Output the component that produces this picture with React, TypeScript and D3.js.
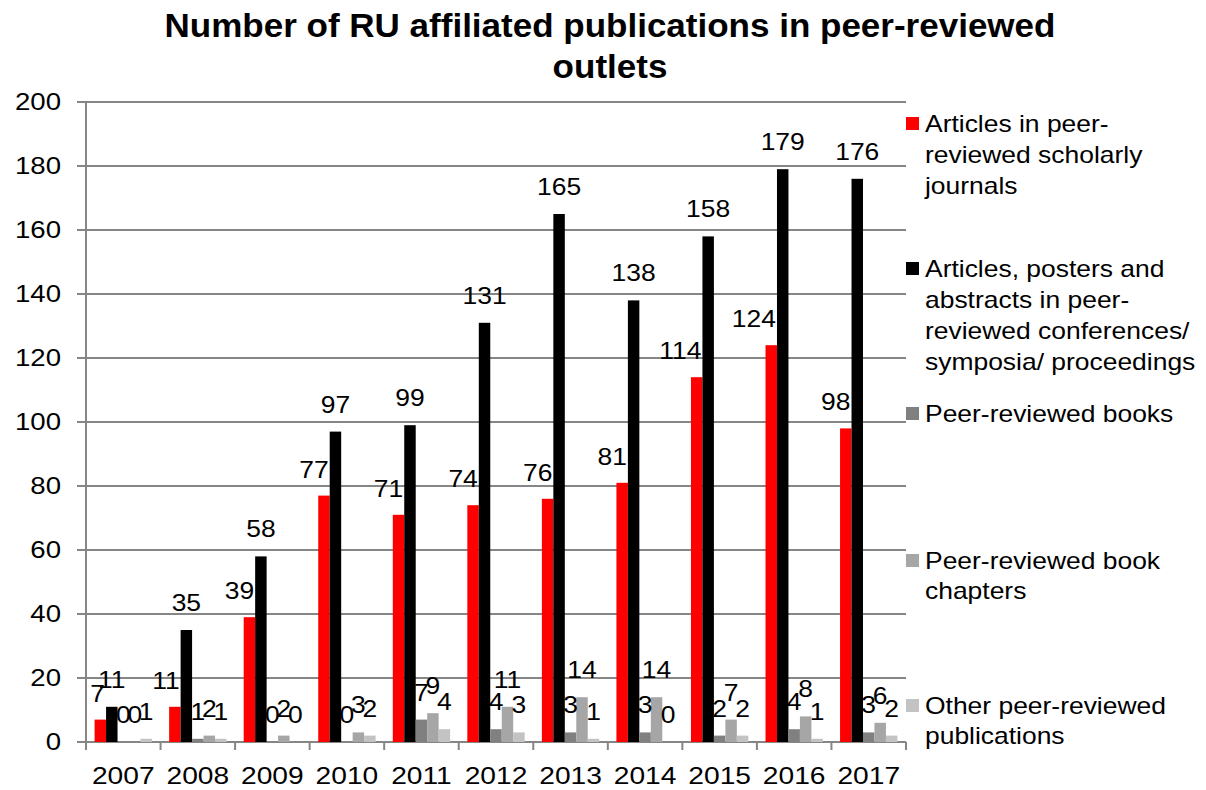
import { useMemo } from "react";
import * as d3 from "d3";

// chart data
const years = ["2007", "2008", "2009", "2010", "2011", "2012", "2013", "2014", "2015", "2016", "2017"];
const journals = [7, 11, 39, 77, 71, 74, 76, 81, 114, 124, 98];
const conferences = [11, 35, 58, 97, 99, 131, 165, 138, 158, 179, 176];
const books = [0, 1, 0, 0, 7, 4, 3, 3, 2, 4, 3];
const chapters = [0, 2, 2, 3, 9, 11, 14, 14, 7, 8, 6];
const other = [1, 1, 0, 2, 4, 3, 1, 0, 2, 1, 2];
const yTicks = [0, 20, 40, 60, 80, 100, 120, 140, 160, 180, 200];

const seriesNames = [
  ["Articles in peer-", "reviewed scholarly", "journals"],
  ["Articles, posters and", "abstracts in peer-", "reviewed conferences/", "symposia/ proceedings"],
  ["Peer-reviewed books"],
  ["Peer-reviewed book", "chapters"],
  ["Other peer-reviewed", "publications"],
];
const seriesValues = [journals, conferences, books, chapters, other];
const colors = ["#ff0000", "#000000", "#808080", "#a6a6a6", "#c3c3c3"];

const W = 1206;
const H = 790;
const plot = { left: 86, right: 906, top: 102, bottom: 742 };
const FONT = "'Liberation Sans', Arial, sans-serif";
const SX = 1.15; // the reference text is a bit wider than plain Arial

// text stretched horizontally around its anchor point
function T({ x, y, size, anchor = "start", bold = false, sx = SX, children }: any) {
  return (
    <text
      transform={`translate(${x},${y}) scale(${sx},1)`}
      fontSize={size}
      fontFamily={FONT}
      fontWeight={bold ? "bold" : "normal"}
      textAnchor={anchor}
      fill="#000"
    >
      {children}
    </text>
  );
}

export default function App() {
  const x = useMemo(
    () => d3.scaleBand().domain(years).range([plot.left, plot.right]).paddingInner(0).paddingOuter(0),
    []
  );
  const inner = useMemo(
    () =>
      d3
        .scaleBand<number>()
        .domain(d3.range(seriesValues.length))
        .range([0, x.bandwidth()])
        .paddingInner(0)
        .paddingOuter(0.75),
    [x]
  );
  const y = useMemo(() => d3.scaleLinear().domain([0, 200]).range([plot.bottom, plot.top]), []);

  const legendBaselines = [
    [132, 163, 194],
    [277, 308, 339, 370],
    [422],
    [569, 599],
    [714, 744],
  ];

  return (
    <svg
      width={W}
      height={H}
      style={{ position: "absolute", left: 0, top: 0, background: "#fff" }}
    >
      {/* title */}
      <T x={610} y={37} size={34} anchor="middle" bold sx={1.03}>
        Number of RU affiliated publications in peer-reviewed
      </T>
      <T x={610} y={78} size={34} anchor="middle" bold sx={1.03}>
        outlets
      </T>

      {/* grid + y ticks */}
      {yTicks.map((t) => (
        <g key={t}>
          <line x1={plot.left - 9} x2={plot.right} y1={y(t)} y2={y(t)} stroke="#868686" strokeWidth={2} />
          <T x={61} y={y(t) + 8} size={24} anchor="end">
            {t}
          </T>
        </g>
      ))}
      <line x1={plot.left} x2={plot.left} y1={plot.top} y2={plot.bottom + 8} stroke="#868686" strokeWidth={2} />

      {/* category ticks */}
      {years.map((yr) => (
        <line
          key={yr}
          x1={(x(yr) ?? 0) + x.bandwidth()}
          x2={(x(yr) ?? 0) + x.bandwidth()}
          y1={plot.bottom}
          y2={plot.bottom + 8}
          stroke="#868686"
          strokeWidth={2}
        />
      ))}

      {/* bars */}
      {seriesValues.map((vals, s) => (
        <g key={s} fill={colors[s]}>
          {vals.map((v, i) => (
            <rect
              key={i}
              x={(x(years[i]) ?? 0) + (inner(s) ?? 0)}
              y={y(v)}
              width={inner.bandwidth()}
              height={plot.bottom - y(v)}
            />
          ))}
        </g>
      ))}

      {/* data labels: the first series' labels sit left of their bar, ending at its right edge */}
      {seriesValues.map((vals, s) => (
        <g key={s}>
          {vals.map((v, i) => {
            const bx = (x(years[i]) ?? 0) + (inner(s) ?? 0);
            return s === 0 ? (
              <T key={i} x={bx + inner.bandwidth() - 1} y={y(v) - 18} size={23} anchor="end">
                {v}
              </T>
            ) : (
              <T key={i} x={bx + inner.bandwidth() / 2} y={y(v) - 19} size={23} anchor="middle">
                {v}
              </T>
            );
          })}
        </g>
      ))}

      {/* x labels */}
      {years.map((yr) => (
        <T key={yr} x={(x(yr) ?? 0) + x.bandwidth() / 2} y={784} size={24.5} anchor="middle">
          {yr}
        </T>
      ))}

      {/* legend */}
      {seriesNames.map((lines, s) => (
        <g key={s}>
          <rect x={906} y={legendBaselines[s][0] - 15} width={13} height={13} fill={colors[s]} />
          {lines.map((ln, k) => (
            <T key={k} x={925} y={legendBaselines[s][k]} size={23}>
              {ln}
            </T>
          ))}
        </g>
      ))}
    </svg>
  );
}
